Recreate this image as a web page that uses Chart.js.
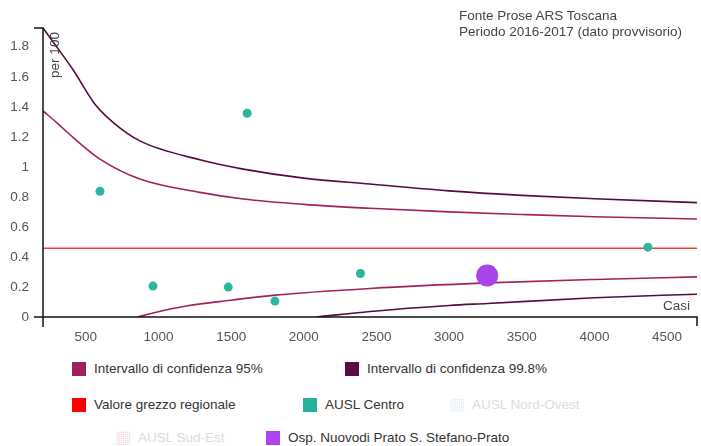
<!DOCTYPE html>
<html>
<head>
<meta charset="utf-8">
<script src="https://cdn.jsdelivr.net/npm/chart.js@4.4.1/dist/chart.umd.min.js"></script>
<style>
  body { margin: 0; background: #fff; font-family: 'Liberation Sans', Arial, sans-serif; }
  #wrap { position: relative; width: 701px; height: 446px; overflow: hidden; }
  #funnel { position: absolute; left: 0; top: 0; }
  .source { position: absolute; left: 459px; top: 8px; font-size: 13.5px; line-height: 16px; color: #444; }
  .key { position: absolute; display: flex; align-items: center; font-size: 13.5px; color: #333; white-space: nowrap; }
  .key i { display: inline-block; width: 14px; height: 14px; margin-right: 8px; }
  .key.off { color: #dcdcdc; }
  .key.off i {
    background-image: linear-gradient(90deg, rgba(255,255,255,.7) 1px, transparent 1px),
                      linear-gradient(rgba(255,255,255,.7) 1px, transparent 1px);
    background-size: 2px 2px;
  }
</style>
</head>
<body>
<div id="wrap">
  <canvas id="funnel" width="701" height="350"></canvas>
  <div class="source">Fonte Prose ARS Toscana<br>Periodo 2016-2017 (dato provvisorio)</div>
  <div id="legend"></div>
</div>
<script>
// x range (casi) and y range (per 100)
const xMin = 205, xMax = 4706;
const yMin = 0, yMax = 1.925;
const xTicks = [500, 1000, 1500, 2000, 2500, 3000, 3500, 4000, 4500];

// regional crude rate
const regionalRate = 0.458;

// confidence limits, 95%
const upper95X = [205, 299, 413, 597, 872, 1285, 1583, 2000, 2455, 3000, 3500, 4000, 4706];
const upper95Y = [1.373, 1.295, 1.195, 1.052, 0.919, 0.830, 0.786, 0.750, 0.724, 0.700, 0.683, 0.668, 0.653];
const lower95X = [859, 962, 1200, 1500, 1801, 2455, 3262, 4000, 4706];
const lower95Y = [0, 0.027, 0.075, 0.112, 0.146, 0.190, 0.227, 0.250, 0.267];

// confidence limits, 99.8%
const upper998X = [205, 299, 413, 563, 689, 872, 1285, 1583, 2000, 2455, 3000, 3500, 4000, 4706];
const upper998Y = [1.925, 1.800, 1.645, 1.417, 1.295, 1.173, 1.047, 0.985, 0.925, 0.886, 0.840, 0.810, 0.788, 0.762];
const lower998X = [2088, 2455, 3000, 3262, 4000, 4706];
const lower998Y = [0, 0.037, 0.077, 0.090, 0.128, 0.152];

// structures: casi / valore per 100
const centroX = [597, 962, 1480, 1610, 1801, 2390, 4368];
const centroY = [0.837, 0.206, 0.199, 1.357, 0.106, 0.290, 0.465];
const pratoX = [3262];
const pratoY = [0.277];

const legendNames = [
  'Intervallo di confidenza 95%', 'Intervallo di confidenza 99.8%',
  'Valore grezzo regionale', 'AUSL Centro', 'AUSL Nord-Ovest',
  'AUSL Sud-Est', 'Osp. Nuovodi Prato S. Stefano-Prato'
];
const legendColors = ['#a0205e', '#5c0a47', '#ff0000', '#22b39c', '#e3ecf8', '#f9d6e4', '#ad45ec'];
const legendOff = [false, false, false, false, true, true, false];
// where each legend entry sits below the plot
const legendSlots = [[72, 361], [345, 361], [72, 397], [303, 397], [450, 397], [116, 430], [266, 430]];

const pts = (xs, ys) => xs.map((x, i) => ({ x: x, y: ys[i] }));

const C95 = '#a3205f', C998 = '#560a44';

function curve(xs, ys, color) {
  return {
    data: pts(xs, ys), showLine: true, pointRadius: 0, borderColor: color,
    borderWidth: 1.6, cubicInterpolationMode: 'monotone', order: 2
  };
}

// axis lines drawn with outer ticks, plus the two axis captions
const axisFrame = {
  id: 'axisFrame',
  afterDraw(chart) {
    const { ctx, chartArea: a } = chart;
    ctx.save();
    ctx.strokeStyle = '#111';
    ctx.lineWidth = 1.5;
    ctx.beginPath();
    ctx.moveTo(a.left - 9, a.top);
    ctx.lineTo(a.left, a.top);
    ctx.lineTo(a.left, a.bottom + 10);
    ctx.moveTo(a.left - 9, a.bottom);
    ctx.lineTo(a.right, a.bottom);
    ctx.lineTo(a.right, a.bottom + 9);
    ctx.stroke();
    ctx.fillStyle = '#444';
    ctx.font = '13.5px "Liberation Sans", Arial, sans-serif';
    ctx.textAlign = 'right';
    ctx.textBaseline = 'middle';
    ctx.fillText('Casi', a.right - 7, a.bottom - 11);
    ctx.translate(a.left + 12, a.top + 27);
    ctx.rotate(-Math.PI / 2);
    ctx.textAlign = 'center';
    ctx.fillText('per 100', 0, 0);
    ctx.restore();
  }
};

const tickFont = { family: 'Liberation Sans', size: 13.5 };

new Chart(document.getElementById('funnel'), {
  type: 'scatter',
  data: {
    datasets: [
      { data: pts(centroX, centroY), pointRadius: 4.5, pointBackgroundColor: '#2bb6a2', pointBorderWidth: 0, order: 0 },
      { data: pts(pratoX, pratoY), pointRadius: 11, pointBackgroundColor: '#a843ea', pointBorderWidth: 0, order: 0 },
      curve(upper95X, upper95Y, C95),
      curve(lower95X, lower95Y, C95),
      curve(upper998X, upper998Y, C998),
      curve(lower998X, lower998Y, C998),
      { data: [{ x: xMin, y: regionalRate }, { x: xMax, y: regionalRate }], showLine: true,
        pointRadius: 0, borderColor: '#f23a3a', borderWidth: 1.6, order: 3 }
    ]
  },
  options: {
    responsive: false,
    animation: false,
    layout: { autoPadding: false, padding: { left: 0, top: 28, right: 4, bottom: 0 } },
    plugins: { legend: { display: false }, tooltip: { enabled: false } },
    scales: {
      x: {
        type: 'linear', min: xMin, max: xMax,
        afterFit: s => { s.height = 33; s.paddingLeft = 0; s.paddingRight = 0; },
        afterBuildTicks: s => { s.ticks = xTicks.map(v => ({ value: v })); },
        border: { display: false },
        grid: { display: false, drawTicks: false },
        ticks: { padding: 12, color: '#555', font: tickFont, callback: v => String(v) }
      },
      y: {
        min: yMin, max: yMax,
        afterFit: s => { s.width = 43; s.paddingTop = 0; s.paddingBottom = 0; },
        border: { display: false },
        grid: { display: false, drawTicks: false },
        ticks: {
          stepSize: 0.2, includeBounds: false, padding: 14, color: '#555',
          font: tickFont,
          callback: v => String(Number(v.toFixed(2)))
        }
      }
    }
  },
  plugins: [axisFrame]
});

// legend under the plot
const legend = document.getElementById('legend');
legendNames.forEach((name, i) => {
  const el = document.createElement('div');
  el.className = 'key' + (legendOff[i] ? ' off' : '');
  el.style.left = legendSlots[i][0] + 'px';
  el.style.top = legendSlots[i][1] + 'px';
  const sw = document.createElement('i');
  sw.style.backgroundColor = legendColors[i];
  el.appendChild(sw);
  el.appendChild(document.createTextNode(name));
  legend.appendChild(el);
});
</script>
</body>
</html>
